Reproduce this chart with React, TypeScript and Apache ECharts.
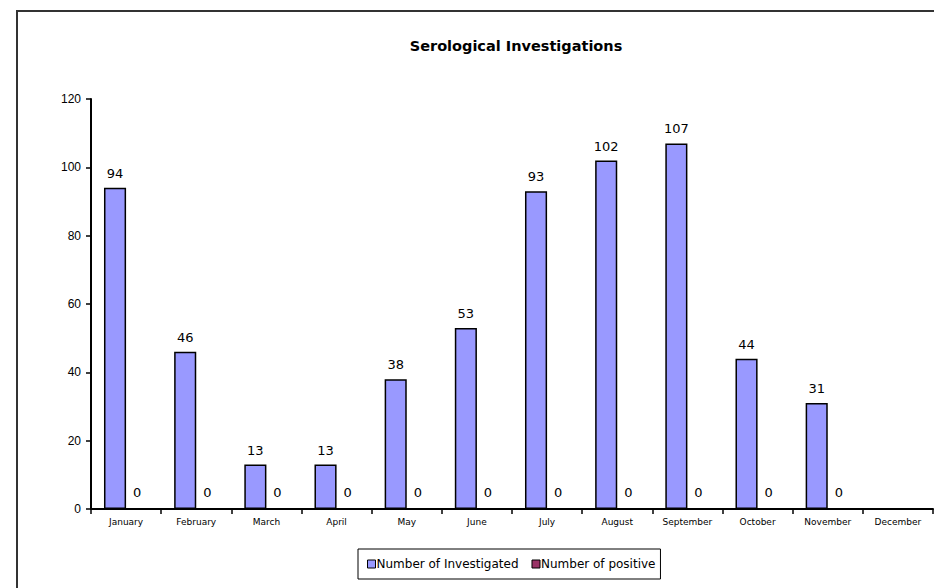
import React, { useEffect, useRef } from "react";
import * as echarts from "echarts";

const months = ["January", "February", "March", "April", "May", "June", "July", "August", "September", "October", "November", "December"];
const investigated: (number | null)[] = [94, 46, 13, 13, 38, 53, 93, 102, 107, 44, 31, null];
const positive: (number | null)[] = [0, 0, 0, 0, 0, 0, 0, 0, 0, 0, 0, null];
const yTicks = { min: 0, max: 120, interval: 20 };

const FONT = "'Liberation Sans', Arial, sans-serif";
const WIDE = "'DejaVu Sans', 'Liberation Sans', sans-serif";

export default function App() {
  const ref = useRef<HTMLDivElement>(null);
  useEffect(() => {
    document.body.style.margin = "0";
    const chart = echarts.init(ref.current!, null, { renderer: "svg" });
    chart.setOption({
      animation: false,
      backgroundColor: "#fff",
      title: {
        text: "Serological Investigations",
        left: 511,
        textAlign: "center",
        top: 33,
        textStyle: { fontFamily: WIDE, fontSize: 14.5, fontWeight: "bold", color: "#000" },
      },
      graphic: [
        {
          type: "rect",
          shape: { x: 17, y: 11, width: 1000, height: 1000 },
          style: { fill: "none", stroke: "#333", lineWidth: 2 },
          silent: true,
        },
      ],
      legend: {
        left: 358,
        top: 549,
        padding: [9, 5, 9, 9],
        borderColor: "#000",
        borderWidth: 1,
        itemWidth: 8,
        itemHeight: 8,
        itemGap: 13,
        icon: "rect",
        textStyle: { fontFamily: WIDE, fontSize: 12, color: "#000", padding: [0, 0, 0, -4] },
        data: [
          { name: "Number of Investigated", itemStyle: { borderColor: "#000", borderWidth: 1 } },
          { name: "Number of positive", itemStyle: { borderColor: "#000", borderWidth: 1 } },
        ],
      },
      grid: { left: 91, right: 1, top: 99, bottom: 79, containLabel: false },
      xAxis: {
        type: "category",
        data: months,
        boundaryGap: true,
        axisLine: { lineStyle: { color: "#000", width: 2 } },
        axisTick: { show: true, length: 5, lineStyle: { color: "#000", width: 1.5 }, alignWithLabel: false },
        axisLabel: { fontFamily: WIDE, fontSize: 9, color: "#000", margin: 8, interval: 0 },
        splitLine: { show: false },
      },
      yAxis: {
        type: "value",
        min: yTicks.min,
        max: yTicks.max,
        interval: yTicks.interval,
        axisLine: { show: true, lineStyle: { color: "#000", width: 2 } },
        axisTick: { show: true, length: 5, lineStyle: { color: "#000", width: 1.5 } },
        axisLabel: { fontFamily: FONT, fontSize: 12, color: "#000", margin: 10 },
        splitLine: { show: false },
      },
      series: [
        {
          name: "Number of Investigated",
          type: "bar",
          data: investigated,
          barGap: "0%",
          barCategoryGap: "37%",
          itemStyle: { color: "#9999FF", borderColor: "#000", borderWidth: 1.5 },
          label: { show: true, position: "top", distance: 8, fontFamily: WIDE, fontSize: 13, color: "#000" },
        },
        {
          name: "Number of positive",
          type: "bar",
          data: positive,
          itemStyle: { color: "#993366", borderColor: "#000", borderWidth: 1.5 },
          label: { show: true, position: "top", distance: 9, fontFamily: WIDE, fontSize: 13, color: "#000" },
        },
      ],
    });
    return () => chart.dispose();
  }, []);
  return <div ref={ref} style={{ position: "fixed", left: 0, top: 0, width: 934, height: 588 }} />;
}
